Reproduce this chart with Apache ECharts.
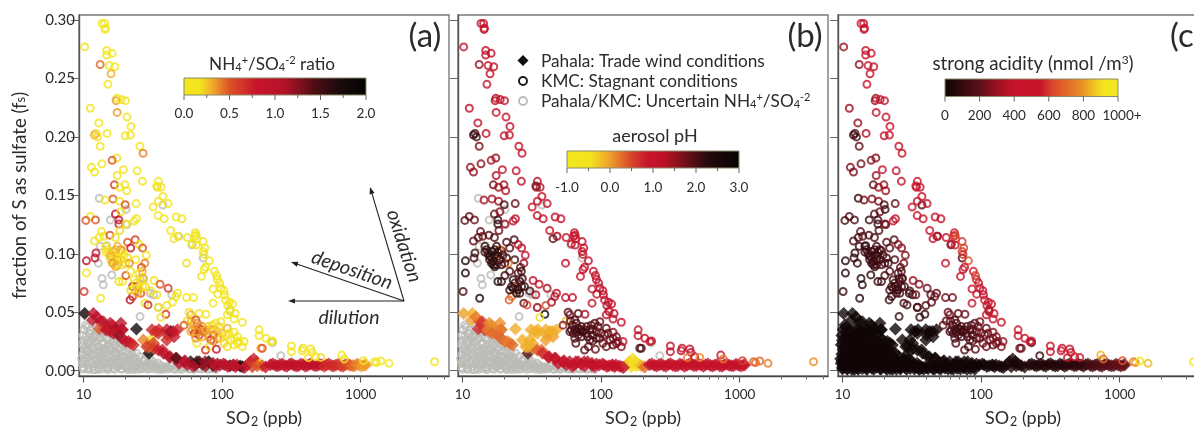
<!DOCTYPE html>
<html><head><meta charset="utf-8">
<style>html,body{margin:0;padding:0;background:#fff;overflow:hidden}#c{width:1194px;height:428px}</style>
<script src="https://cdn.jsdelivr.net/npm/echarts@6/dist/echarts.min.js"></script>
</head><body><div id="c"></div>
<script>
// ---- KMC rings, upper part of the plume
const upperSO2=[13.6,14.2,14.4,14.3,10.2,14.7,16.1,14.7,13.2,15.3,16.8,15.8,15,17.4,17.2,18.7,20.1,11.2,17.5,20.6,12.9,22,14.8,20,21.8,12.3,12,12.6,13.2,25.5,26.9,17.4,16.1,13.6,11.4,12,19.4,17.5,24.4,26.6,34.7,33.8,36.3,34.2,16.7,18.2,19.9,20.5,37.4,40.8,34.7,31.8,24,16.3,14.3,18.2,20,17,18.6,11.2];
const upperFs=[.297,.297,.293,.292,.277,.274,.2715,.27,.262,.261,.26,.254,.245,.233,.231,.232,.231,.2245,.221,.217,.212,.209,.203,.201,.2017,.203,.2017,.2,.192,.192,.186,.182,.18,.177,.174,.17,.172,.167,.171,.162,.162,.158,.157,.157,.159,.157,.159,.154,.149,.143,.145,.14,.143,.147,.146,.145,.142,.134,.136,.132];
const upperRatio=[.1,.1,.1,.1,.1,.1,.1,.1,.45,.05,.05,.3,.1,.1,.35,.1,.1,.1,.35,.1,.1,.1,.1,.1,.1,.2,.3,.2,.1,.1,.4,.1,.5,.1,.1,.1,.1,.1,.1,.1,.1,.1,.1,.1,.6,.1,.1,.1,.1,.1,.1,.1,.1,.5,.1,.1,.5,.9,.1,.1];
const upperPH=[1.1,1.1,1.1,1.1,1,1,1.1,1.1,1.5,1,1,1,1,1.2,1.3,1.1,1,1.2,1.1,1,1.1,1,1.1,1,1,2,2.2,2.1,1.7,1,1,1.5,1.4,1.6,1.5,1.5,1.1,1.3,1.1,1.1,1.3,1.8,1.3,1.5,1.8,1.4,1.5,1.3,1.1,1.1,1,1,1.8,1.4,1.4,1.4,2,1.8,1.6,1.9];
const upperAcid=[430,430,440,430,300,420,430,420,280,440,450,420,400,320,300,400,460,300,420,460,300,470,350,470,470,150,120,150,220,470,450,250,270,240,270,260,420,310,430,440,500,420,480,450,200,320,290,320,470,480,470,470,220,250,250,280,180,200,230,170];
// ---- KMC rings, right-hand branch
const branchSO2=[10.4,12.2,18,18,18.3,20.2,23.2,24.1,34.6,38.2,46.6,51.3,13.5,12,13,14,15.5,17,42.6,48,45,56,64.2,65,63.5,65.5,61,65,73,75,73,74,81,55.4,76,74,71,88,91,92.5,96,86,98,103,93,104,106,86,113,119,110,114,124,109,122,140];
const branchFs=[.1286,.129,.1255,.129,.12,.1255,.128,.13,.1327,.13,.1315,.13,.119,.111,.114,.115,.116,.114,.12,.115,.113,.114,.118,.116,.115,.113,.1085,.1075,.1105,.105,.102,.0995,.094,.092,.0885,.0865,.0807,.085,.0815,.078,.075,.07,.0707,.0684,.0655,.065,.0606,.0578,.0586,.057,.0558,.0506,.049,.0478,.0443,.0415];
const branchRatio=[.5,.5,.8,.9,.2,.1,.1,.1,.1,.1,.1,.1,.1,.1,.1,.1,.5,.1,.1,.1,.1,.1,.1,.1,.1,.1,.1,.1,.1,.1,.1,.1,.1,.2,.1,.1,.1,.1,.1,.1,.1,.1,.1,.1,.1,.1,.1,.1,.1,.1,.1,.1,.1,.1,.1,.1];
const branchPH=[1.9,1.8,2.3,2.2,1.8,1.4,1.2,1.2,1.1,1.1,1.1,1.1,1.9,1.9,1.9,1.8,2,1.9,1,1.2,1.9,1,1.1,1.1,1.1,1.1,1,1,1.1,1.1,1.1,1,1.1,1.2,1.1,1,1,1.1,1.1,1.1,1.1,1,1.1,1.1,1.1,1.1,1.1,1,1.1,1.1,1.1,1.1,1.1,1.1,1.1,1.1];
const branchAcid=[150,170,130,130,170,270,380,380,430,440,470,480,180,170,170,180,170,170,470,440,380,470,560,600,580,620,520,560,600,620,600,580,660,480,520,500,470,560,600,580,500,480,520,520,500,530,500,470,500,500,500,480,480,480,500,480];
// ---- KMC rings, middle-left cluster
const midSO2=[20.8,23.6,21.9,25.2,26.7,28.4,23.8,27.7,26.2,26.6,14.5,15.3,16.2,16.7,17.6,18.6,19.1,20.2,21.4,18.6,17.6,16.2,17.1,18,15.7,16.7,12.3,12.1,10.5,10.5,10.1,13.3,18,19.1,20.2,21.9,25.2,27,23.2,22.6,24.3,25.9,30.6,28,21.7,22.6,27.7,29.2,32.3,35.7,40.8,33.8,47.7,46.3,43.9,55.4,62.2,39.9,39.3,36.1,34.6,56,53.2];
const midFs=[.11,.112,.105,.108,.105,.0987,.095,.092,.0884,.085,.1015,.0998,.097,.0935,.0907,.095,.1027,.092,.092,.1035,.095,.102,.099,.098,.095,.0907,.1007,.0964,.094,.0835,.0678,.062,.0763,.0763,.0815,.085,.0835,.079,.0778,.072,.072,.0663,.0683,.072,.0606,.0635,.0578,.0563,.0772,.074,.0706,.065,.0663,.0635,.0586,.0626,.0626,.0558,.0483,.0458,.054,.0426,.039];
const midRatio=[.5,.6,.8,.1,.5,.1,.1,.4,.5,.3,.1,.2,.2,.3,.3,.2,.1,.2,.4,.4,.4,.3,.2,.1,.2,.1,.8,1,1,.1,.6,.1,.2,.1,.5,.1,.1,.3,.1,.9,.5,.5,.1,.2,1,.7,.1,.7,.1,.5,.6,.1,.1,.1,.1,.1,.1,.1,.6,.1,.1,.2,.5];
const midPH=[2,2.1,1.9,1.3,1.3,1,2.1,1.4,1.9,2.1,2.1,2.1,2.2,2.2,2.1,2.1,2.1,2,.2,.3,.3,2.3,2.3,2.2,2.2,2.2,2.1,2.1,2.4,2.5,2,2.5,2.4,2.2,2.1,2,2,2,2.2,2.4,.2,2.2,2.1,2.1,.4,.3,1.9,.5,1.2,1.2,1.4,1.3,1.2,1.2,1.4,1.2,1.2,.5,2.7,-.4,1.4,-.2,1.6];
const midAcid=[200,180,180,280,260,250,150,250,200,170,120,120,120,130,130,140,150,140,140,160,150,110,110,110,110,120,100,100,90,80,100,70,110,120,150,170,170,180,130,130,140,130,150,130,110,120,150,130,300,260,230,230,230,220,200,230,240,180,90,90,170,200,210];
// ---- KMC rings, lower cluster
const lowSO2=[57.8,59.5,68.4,76.5,60,64.6,61,68.4,72,77.5,90,98,109,92.5,87,83,92.5,100,106,122,129,116,122,132,140,144,65.7,76,81,91,103,64.6,63,74,68.4,72,59.5,79];
const lowFs=[.05,.0478,.049,.0483,.0426,.0435,.035,.0363,.0378,.032,.0406,.042,.0363,.0335,.0306,.0263,.0277,.032,.0306,.033,.029,.0263,.022,.025,.0206,.025,.0235,.0177,.0206,.0183,.0235,.035,.032,.0335,.0306,.029,.0335,.0378];
const lowRatio=[.1,.3,.1,.1,.3,.5,.4,.6,.4,.3,.1,.1,.3,.3,.5,.7,.4,.3,.2,.1,.1,.2,.1,.1,.1,.1,.1,.7,.2,.8,.2,.4,.6,.5,.7,.3,.3,.2];
const lowPH=[1.9,1.8,1.9,1.4,1.9,1.9,2,2.1,2,2,1.9,1.8,1.9,1.9,2.1,2.1,2,1.8,1.9,1.6,1.7,1.8,1.9,1.6,1.7,1.2,2,1.9,1.9,1.8,1.8,2.1,2.1,2.1,2.1,2.1,2,2];
const lowAcid=[220,230,200,220,220,200,170,140,140,170,210,230,230,220,180,180,190,230,220,260,260,240,220,260,260,300,170,170,170,190,230,130,130,130,130,140,170,180];
// ---- KMC rings, dense cores of the two clusters
const coreSO2=[14.9,15.7,17.1,18,16.2,17.1,19.1,19.6,20.8,17.6,14.5,23.2,25.2,26.7,24.5,21.9,23.8,25.9,62.2,66.3,71,66.3,64.6,72,76,83,85,87,95,80,87,98,112,122,109,129];
const coreFs=[.1035,.098,.1035,.1015,.092,.089,.0907,.099,.0964,.1064,.1064,.0706,.0692,.072,.0663,.069,.075,.0763,.039,.0406,.035,.033,.0277,.0335,.035,.035,.039,.035,.0378,.029,.0255,.0277,.032,.0277,.0206,.0235];
const coreRatio=[.2,.3,.3,.2,.35,.3,.2,.1,.2,.3,.1,.2,.2,.1,.3,.1,.1,.1,.3,.4,.5,.4,.35,.4,.3,.3,.2,.3,.2,.35,.4,.2,.1,.1,.2,.1];
const corePH=[2.2,2.3,2.2,2.2,2.2,2.3,2.1,2.1,2.1,2.2,2.1,2.3,2.3,2.2,2.2,2.2,2.1,2.1,2,2,2.1,2.1,1.9,2.1,2,2,2,2,1.9,2,2,1.9,1.8,1.8,1.8,1.7];
const coreAcid=[110,110,120,120,110,110,130,140,140,120,120,110,110,130,120,130,140,150,170,150,130,130,180,130,140,170,180,170,220,170,170,220,240,240,230,250];
// ---- KMC rings, high-SO2 tail
const tailSO2=[185,185,207,231,225,190,195,316,316,384,378,436,445,420,473,515,730,760,1047,1260,1300,1395,1600,3410];
const tailFs=[.035,.03,.0277,.0255,.025,.0192,.0192,.0212,.0163,.0192,.017,.0186,.0157,.0112,.012,.0114,.0134,.01,.0086,.0077,.0069,.0083,.0063,.0077];
const tailRatio=[.1,.1,.1,.1,.1,.3,.5,.1,.1,.2,.1,.1,.1,.1,.1,.2,.1,.1,.1,.1,.1,.1,.1,.1];
const tailPH=[1.2,1.2,1.1,1,1,2,2,1.1,1.1,1.1,1.1,1.1,1.1,.2,1,.1,1,.2,.5,.3,.3,.3,.2,.1];
const tailAcid=[420,420,460,480,470,230,230,450,430,430,430,440,430,430,500,560,850,700,650,750,800,950,850,950];
// ---- Pahala diamonds
const diaSO2=[10.2,11.8,11.6,13.3,13,14.5,16.2,18.6,17.1,19.1,15.7,18,20.2,22,24.1,29.7,30.6,33.2,35,40.4,42.6,47.7,45,29.7,32.3,37.2,41.4,46.3,53.2,59.3,68.4,80,92.5,97,114,128,49,56,64,72,86,105,120,135,140,152,160,169,177,187,165,179,195,206,223,242,261,282,305,329,356,385,416,450,487,526,568,614,663,717,775,837,905,978,1057,1090,12.5,13.9,15.6,16.9,18.9,15.1,16.5,18.9,21.1,22.9,27,28.6,32,31.2,34.7,39.9,44.6,39.9,34.7,37.8,42.2,47,54,65.7,75.5,86,102,121,232,251,271,293,317,342,370,400,433,468,506,547,590,638,690,746,806,870,940,1015,62,76,90,110,125,145];
const diaFs=[.049,.049,.0435,.042,.036,.035,.039,.0406,.035,.035,.0335,.0306,.025,.0235,.0357,.015,.0263,.0335,.035,.0306,.0335,.035,.029,.0206,.019,.0177,.012,.0106,.0077,.0077,.0077,.0077,.0057,.005,.0043,.0049,.0065,.0052,.005,.0056,.0045,.0052,.0047,.004,.0034,.0049,.0077,.01,.0077,.0054,.0034,.0043,.0043,.0031,.0052,.0046,.005,.0044,.0053,.0048,.0042,.0051,.0046,.0053,.0044,.0049,.0052,.0045,.005,.0043,.0052,.0047,.0042,.005,.0046,.0052,.046,.042,.0406,.0363,.035,.035,.032,.0277,.025,.022,.0263,.0206,.0235,.035,.032,.035,.0335,.0263,.0177,.015,.012,.0106,.0086,.0077,.0077,.0063,.0057,.0049,.0058,.004,.0056,.0038,.0059,.0041,.0057,.0039,.0058,.0042,.0056,.0038,.0058,.0041,.0056,.0039,.0057,.0042,.0056,.0041,.0038,.004,.0036,.0036,.0034,.0028];
const diaRatio=[1.9,1,1,.9,.5,.9,.6,1,1.7,1,.6,1.7,1,.7,1.8,1.9,.1,.7,.7,.7,2,.7,.8,.4,.5,.7,1,1.3,1,1.7,1.5,2,1.2,1,1.8,1,1,1.1,1.6,1.3,1.7,1.1,.9,1.7,1.8,.7,.7,.75,.7,.1,.6,.5,.5,.9,.95,1,.9,.85,.95,.95,.9,.85,.95,.9,.95,.9,.7,.7,.7,.65,.6,.5,.4,.4,.35,.35,1,1,.9,1,1,1,1,1,.9,.7,.4,.6,.6,.7,.7,.8,.8,.7,.8,1,1.1,1.4,1,1.5,1.2,1,1,1,.95,.95,.85,.9,.95,.9,.85,.9,.9,.95,.9,.7,.7,.7,.65,.6,.5,.45,.4,.35,1,1.2,1,1,.9,.9];
const diaPH=[0,-.1,0,.7,.7,.7,.1,.1,.1,.3,.2,.4,.3,.2,-.1,2,-.1,-.1,-.1,-.1,0,-.1,0,-.1,0,.3,.9,1,1,1.2,1,1.2,1,1,1,1,1,1,1,1.1,1.1,1,1,1,1,-.1,-.3,-.4,-.4,-.3,-.4,-.4,-.1,.3,1,1.1,1,.8,.9,1,1,.9,1,1,.9,1,1,1,.9,1,1,.9,1,1,1,1,.2,.6,.1,.1,.2,.2,.3,.3,.2,.3,-.1,-.1,-.1,-.1,-.1,-.1,-.1,0,.4,.7,.9,1,1,1,1.1,1.1,1,1,1,1,1,.9,1,1,1,1,1,1,1,1,1,1,1,1,1,1,1,1,1,1,1,1,1,1];
const diaAcid=[20,20,15,15,20,15,15,15,15,15,15,15,15,15,15,15,15,15,20,25,25,30,25,15,15,15,15,15,15,15,20,20,20,20,25,25,20,15,15,20,20,20,25,30,30,30,40,40,40,40,35,35,40,40,50,55,60,55,60,65,70,70,75,80,85,90,120,150,150,170,180,190,200,210,220,220,15,15,15,15,15,15,15,15,15,15,15,15,15,15,15,20,20,20,15,15,15,15,15,15,20,20,20,25,50,55,55,60,60,65,70,70,75,80,85,100,130,150,160,170,185,195,205,215,20,20,20,25,25,30];
// ---- uncertain samples, upper (rings in all three panels)
const grayUpSO2=[15.6,20.5,13.2,14.7,12.8,16,13.6,13.9,25.6,27,24.9,30.3,32,25.6,34.7,43.4,48.5,60.5,73,114,13,20.3,37.4,231,265];
const grayUpFs=[.129,.125,.1064,.107,.092,.082,.079,.0735,.079,.079,.069,.0663,.065,.0463,.0543,.065,.115,.1078,.0964,.052,.1475,.138,.1418,.024,.0129];
const grayUpAcid=[110,120,80,90,70,80,70,70,120,120,110,110,120,90,100,130,160,150,160,120,100,100,150,120,110];
// ---- uncertain samples, lower (grey rings in a, b; near-black diamonds in c)
const grayLowSO2=[10.1,10.6,11.3,12.4,13.2,14.1,9.9,10.4,11,11.8,12.7,13.5,14.6,15.7,16.5,10,10.7,11.5,12.2,13.1,14,15.1,16.2,17.6,18.6,9.8,10.3,11.1,11.9,12.8,13.8,14.9,15.9,17.1,18.4,19.8,21.3,10.1,10.8,11.6,12.4,13.3,14.4,15.4,16.6,17.9,19.2,20.7,22.4,24.1,9.9,10.5,11.2,12.1,13,13.9,15,16.1,17.4,18.8,20.3,21.8,23.6,25.4,27.5,9.7,10.2,10.9,11.7,12.5,13.5,14.6,15.7,16.9,18.2,19.6,21.1,22.9,24.7,26.8,29.2,31.8,34.5,9.8,10.6,11.4,12.3,13.2,14.2,15.3,16.5,17.8,19.1,20.6,22.2,24,26,28.1,30.5,33.2,36.1,39.5,43,47.5,52,10,10.9,11.8,12.8,13.9,15,16.3,17.6,19,20.5,22.1,24,26.1,28.3,30.8,33.6,36.9,40.6,44.8,49.5,54.8,60.6,67.5,75,84,12.1,13.7,15.5,17.2,19.4,21.6,14.4,16.9,18.1,20,22.7,25,12.9,15.3,17.7,23.2,27,30,11.5,14.8,19.9,25.7,32.8,37.7,10.4,11.1,10,10.8,11.7,13,15,16.8,18.7,20.9,23,26.2,29,33,35.8,41.5,46,51,57.5,63,71,79,90,9.9,10.5,11.3,12.2,13.4,14.7,16.1,17.8,19.8,22,24.5,27.8,31,35.2,38.5,44];
const grayLowFs=[.0352,.0371,.0346,.0362,.0338,.0329,.0302,.0288,.0317,.0296,.0305,.0322,.0283,.0311,.0274,.0258,.0244,.0267,.0251,.0276,.0249,.0262,.0241,.0256,.0235,.0223,.0208,.0231,.0217,.0205,.0226,.0214,.0198,.0221,.0203,.0216,.0194,.0182,.0171,.0189,.0176,.0168,.0184,.0173,.0161,.0178,.0166,.0157,.0169,.0149,.0142,.0131,.0148,.0137,.0124,.0143,.0133,.0119,.0138,.0126,.0114,.0129,.0108,.0121,.0098,.0102,.0091,.0108,.0096,.0087,.0104,.0093,.0082,.0098,.0088,.0079,.0094,.0084,.0072,.0081,.0069,.0076,.0064,.0061,.0053,.0068,.0057,.0049,.0063,.0054,.0046,.0059,.0051,.0044,.0056,.0047,.0052,.0041,.0048,.0038,.0044,.0035,.0039,.0031,.0034,.0028,.0021,.0035,.0024,.0017,.0029,.0022,.0033,.0018,.0026,.0015,.0031,.0023,.0027,.0019,.0029,.0022,.0025,.0018,.0021,.0024,.0016,.0019,.0023,.0017,.0286,.0234,.0187,.0153,.0122,.0097,.0109,.0129,.0074,.0068,.0116,.0058,.0157,.0077,.0045,.0033,.0043,.0105,.0126,.0026,.0036,.0061,.0052,.0029,.0392,.0318,.0014,.0012,.0011,.0013,.0011,.0012,.0014,.0011,.0013,.0015,.0012,.0014,.0011,.0016,.0013,.0012,.0015,.0013,.0014,.0012,.0013,.0078,.0165,.0252,.0011,.0083,.0161,.0068,.0041,.0112,.0089,.0013,.0094,.0052,.0021,.0012,.0046];
// ---- tick labels and colour-bar labels
const xMajorTicks=[10,100,1000];
const xMinorTicks=[20,30,40,50,60,70,80,90,200,300,400,500,600,700,800,900,2000,3000,4000];
const yTicks=[0,.05,.1,.15,.2,.25,.3];
const ratioBarLabels=['0.0','0.5','1.0','1.5','2.0'];
const phBarLabels=['-1.0','0.0','1.0','2.0','3.0'];
const acidBarLabels=['0','200','400','600','800','1000+'];

const FONT='Lato';
const TXT='#2b2b2b';
const GRAY='#bcbcb7';
const ratioStops=[[0,'#F2E71E'],[.09,'#F2E31E'],[.16,'#F0A82C'],[.25,'#DC5226'],[.4,'#C7142B'],[.55,'#B51228'],[.72,'#4D0E14'],[.85,'#1A0A0C'],[1,'#050303']];
const phStops=[[0,'#F2E71E'],[.14,'#F2E31E'],[.25,'#EFA02C'],[.37,'#D9482A'],[.47,'#C7142B'],[.56,'#BE1128'],[.7,'#6A0F18'],[.82,'#240A0C'],[1,'#050303']];
const acidStops=[[0,'#0A0505'],[.1,'#34090E'],[.2,'#5A0F18'],[.3,'#9A1020'],[.4,'#C7142B'],[.55,'#C7142B'],[.62,'#D9482A'],[.78,'#E88A27'],[.88,'#F2D020'],[.92,'#F2E71E'],[1,'#F2E71E']];
function ramp(stops,t){
  t=Math.max(0,Math.min(1,t));
  for(let i=1;i<stops.length;i++){
    if(t<=stops[i][0]){
      const a=stops[i-1],b=stops[i],f=(t-a[0])/(b[0]-a[0]);
      const p=s=>[1,3,5].map(k=>parseInt(s.substr(k,2),16));
      const A=p(a[1]),B=p(b[1]);
      return 'rgb('+A.map((v,k)=>Math.round(v+(B[k]-v)*f)).join(',')+')';
    }
  }
  return stops[stops.length-1][1];
}
const colourers=[
  {stops:ratioStops,t:v=>v/2,ring:p=>p[2]},
  {stops:phStops,t:v=>(v+1)/4,ring:p=>p[3]},
  {stops:acidStops,t:v=>v/1000,ring:p=>p[4]}
];
const groups=[
 [upperSO2,upperFs,upperRatio,upperPH,upperAcid],
 [branchSO2,branchFs,branchRatio,branchPH,branchAcid],
 [midSO2,midFs,midRatio,midPH,midAcid],
 [lowSO2,lowFs,lowRatio,lowPH,lowAcid],
 [coreSO2,coreFs,coreRatio,corePH,coreAcid],
 [tailSO2,tailFs,tailRatio,tailPH,tailAcid]
];
const rows=g=>g[0].map((x,i)=>[x,g[1][i],g[2][i],g[3][i],g[4][i]]);
const ringRows=groups.flatMap(rows);
const diaRows=rows([diaSO2,diaFs,diaRatio,diaPH,diaAcid]);

const gridLefts=[79,458,838];
const gridTop=15,gridW=370,gridH=361;
const xMin=9.28,xMax=4335,yMin=-.0045,yMax=.3043;
const grid=gridLefts.map(l=>({left:l,top:gridTop,width:gridW,height:gridH,outerBoundsMode:'none',containLabel:false,show:true,borderColor:'#7a7a7a',borderWidth:1.4,backgroundColor:'transparent'}));
const xAxis=[],yAxis=[];
gridLefts.forEach((l,i)=>{
  xAxis.push({type:'log',logBase:10,gridIndex:i,min:xMin,max:xMax,position:'bottom',splitLine:{show:false},minorTick:{show:false},
    axisLine:{show:true,onZero:false,lineStyle:{color:'#444',width:1.4}},
    axisTick:{show:true,length:3.5,outside:true,customValues:xMinorTicks,lineStyle:{color:'#666',width:1}},
    axisLabel:{show:true,customValues:xMajorTicks,margin:12,fontFamily:FONT,fontSize:13.5,color:TXT,formatter:v=>String(Math.round(v))},
    name:'{a|SO}{s|2}{a| (ppb)}',nameLocation:'middle',nameGap:33,
    nameTextStyle:{rich:{a:{fontFamily:FONT,fontSize:18,color:TXT},s:{fontFamily:FONT,fontSize:12.5,color:TXT,verticalAlign:'bottom',padding:[6,0,0,1]}}}
  });
  yAxis.push({type:'value',gridIndex:i,min:yMin,max:yMax,splitLine:{show:false},
    axisLine:{show:true,onZero:false,lineStyle:{color:'#555',width:1.4}},
    axisTick:{show:true,length:8,customValues:yTicks,lineStyle:{color:'#666',width:1}},
    axisLabel:{show:i===0,customValues:yTicks,margin:4,fontFamily:FONT,fontSize:15,color:TXT,formatter:v=>v.toFixed(2)},
    name:i===0?'{a|fraction of S as sulfate (f}{s|s}{a|)}':'',nameLocation:'middle',nameGap:49,
    nameTextStyle:{rich:{a:{fontFamily:FONT,fontSize:18.5,color:TXT},s:{fontFamily:FONT,fontSize:13,color:TXT}}}
  });
});
gridLefts.forEach((l,i)=>{
  xAxis.push({type:'log',logBase:10,gridIndex:i,min:xMin,max:xMax,position:'bottom',splitLine:{show:false},minorTick:{show:false},
    axisLine:{show:false,onZero:false},axisLabel:{show:false},
    axisTick:{show:true,length:6.5,outside:true,customValues:xMajorTicks,lineStyle:{color:'#555',width:1.1}}});
});

const series=[];
const ringBase={type:'scatter',symbol:'circle',symbolSize:7,silent:true,animation:false,clip:true};
const RW=2;
gridLefts.forEach((l,i)=>{
  const c=colourers[i];
  const grayLow=grayLowSO2.map((x,k)=>[x,grayLowFs[k]]);
  const grayUp=grayUpSO2.map((x,k)=>[x,grayUpFs[k],grayUpAcid[k]]);
  if(i<2){
    series.push({...ringBase,name:'Pahala/KMC: Uncertain',xAxisIndex:i,yAxisIndex:i,data:grayLow.concat(grayUp.map(p=>[p[0],p[1]])),
      itemStyle:{color:'transparent',borderColor:GRAY,borderWidth:RW}});
  }
  if(i===2){
    series.push({type:'scatter',symbol:'diamond',symbolSize:13,silent:true,animation:false,xAxisIndex:i,yAxisIndex:i,
      data:grayLow.map(p=>({value:p,itemStyle:{color:ramp(acidStops,.02)}}))});
  }
  series.push({type:'scatter',name:'Pahala: Trade wind conditions',symbol:'diamond',symbolSize:13,silent:true,animation:false,xAxisIndex:i,yAxisIndex:i,
    data:diaRows.map(p=>({value:[p[0],p[1]],itemStyle:{color:ramp(c.stops,c.t(c.ring(p)))}}))});
  if(i===2){
    series.push({...ringBase,xAxisIndex:i,yAxisIndex:i,
      data:grayUp.map(p=>({value:[p[0],p[1]],itemStyle:{color:'transparent',borderWidth:RW,borderColor:ramp(acidStops,p[2]/1000)}}))});
  }
  series.push({...ringBase,name:'KMC: Stagnant conditions',xAxisIndex:i,yAxisIndex:i,
    data:ringRows.map(p=>({value:[p[0],p[1]],itemStyle:{color:'transparent',borderWidth:RW,borderColor:ramp(c.stops,c.t(c.ring(p)))}}))});
});

// --- overlay elements
const g=[];
function text(x,y,t,size,o){g.push({type:'text',x,y,z:50,style:Object.assign({text:t,font:(o&&o.font)||(size+'px '+FONT),fill:TXT,align:'center',verticalAlign:'middle'},o&&o.style),rotation:o&&o.rot||0});}
function bar(x0,x1,y0,y1,stops,labels,minorCount,yLab){
  g.push({type:'rect',z:50,shape:{x:x0,y:y0,width:x1-x0,height:y1-y0},style:{stroke:'#8a8a6a',lineWidth:1,fill:{type:'linear',x:0,y:0,x2:1,y2:0,colorStops:stops.map(s=>({offset:s[0],color:s[1]}))}}});
  const n=labels.length-1;
  for(let k=0;k<=n;k++){
    const x=x0+(x1-x0)*k/n;
    g.push({type:'line',z:50,shape:{x1:x,y1:y1,x2:x,y2:y1+5},style:{stroke:'#666',lineWidth:1}});
    if(minorCount&&k<n){const xm=x+(x1-x0)/n/2;g.push({type:'line',z:50,shape:{x1:xm,y1:y1,x2:xm,y2:y1+3},style:{stroke:'#666',lineWidth:1}});}
    text(x+(labels[k]==='1000+'?4:0),yLab,labels[k],13.5);
  }
}
function richSet(sz){return {a:{fontFamily:FONT,fontSize:sz,fill:TXT},s:{fontFamily:FONT,fontSize:sz*.64,fill:TXT,verticalAlign:'bottom',padding:[7,0,0,0]},u:{fontFamily:FONT,fontSize:sz*.64,fill:TXT,verticalAlign:'top',padding:[0,0,7,0]}};}
function richText(x,y,t,align,sz){g.push({type:'text',x,y,z:50,style:{text:t,rich:richSet(sz||17.2),align:align||'left',verticalAlign:'middle',fill:TXT}});}
bar(184,366,78,95,ratioStops,ratioBarLabels,true,114);
bar(567,739,151,168,phStops,phBarLabels,true,188);
bar(945,1118,79,96.5,acidStops,acidBarLabels,false,116);
richText(272,64,'{a|NH}{s|4}{u|+}{a|/SO}{s|4}{u|-2}{a| ratio}','center',17.2);
text(655,136,'aerosol pH',18);
richText(1033,64,'{a|strong acidity (nmol /m}{u|3}{a|)}','center',18.7);
text(425,36,'(a)',33);
text(805,36,'(b)',33);
text(1186,36,'(c)',33);
// legend of panel b
g.push({type:'polygon',z:50,shape:{points:[[523,55],[528.5,60.5],[523,66],[517.5,60.5]]},style:{fill:'#111'}});
g.push({type:'circle',z:50,shape:{cx:523,cy:81,r:4},style:{fill:'none',stroke:'#1a1a1a',lineWidth:1.9}});
g.push({type:'circle',z:50,shape:{cx:523,cy:101,r:4},style:{fill:'none',stroke:GRAY,lineWidth:1.9}});
richText(541,61,'{a|Pahala: Trade wind conditions}');
richText(541,81,'{a|KMC: Stagnant conditions}');
richText(541,101,'{a|Pahala/KMC: Uncertain NH}{s|4}{u|+}{a|/SO}{s|4}{u|-2}');
// process arrows of panel a
function arrow(x2,y2){
  const x1=404,y1=301,dx=x2-x1,dy=y2-y1,L=Math.hypot(dx,dy),ux=dx/L,uy=dy/L,h=7,w=2.6;
  g.push({type:'line',z:50,shape:{x1,y1,x2:x2-ux*3,y2:y2-uy*3},style:{stroke:'#222',lineWidth:1.1}});
  g.push({type:'polygon',z:50,shape:{points:[[x2,y2],[x2-ux*h-uy*w,y2-uy*h+ux*w],[x2-ux*h+uy*w,y2-uy*h-ux*w]]},style:{fill:'#222'}});
}
arrow(288,301);arrow(291,262);arrow(370,187);
const it='italic 19.5px '+FONT;
text(349,318,'dilution',19,{font:it});
text(352,270,'deposition',19,{font:it,rot:-19*Math.PI/180});
text(404,246,'oxidation',19,{font:it,rot:-72*Math.PI/180});

const chart=echarts.init(document.getElementById('c'),null,{renderer:'canvas',width:1194,height:428});
chart.setOption({animation:false,backgroundColor:'#fff',grid,xAxis,yAxis,series,graphic:{elements:g}});
</script></body></html>
